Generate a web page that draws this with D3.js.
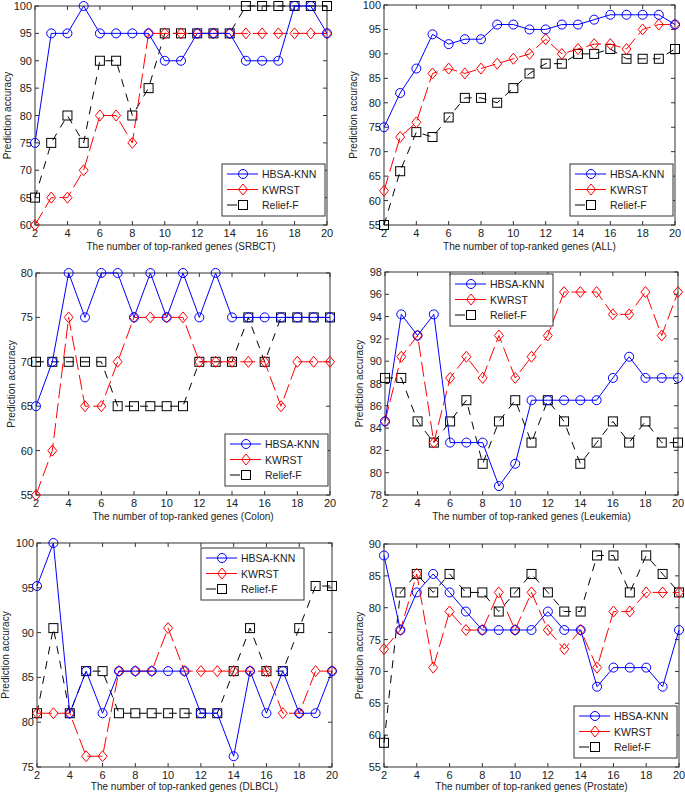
<!DOCTYPE html>
<html lang="en">

<head>
  <meta charset="utf-8" />
  <title>Prediction accuracy vs top-ranked genes</title>
  <script src="https://d3js.org/d3.v7.min.js"></script>
  <style>
    body {
      margin: 0;
      background: white;
    }

    svg text {
      font-family: "Liberation Sans", Arial, sans-serif;
      fill: #222;
    }

    .tick-label {
      font-size: 11px;
    }

    .axis-title {
      font-size: 10px;
    }

    .legend text {
      font-size: 10.5px;
    }
  </style>
</head>

<body>
  <svg width="685" height="794"></svg>

  <script>
    const genes = [2, 3, 4, 5, 6, 7, 8, 9, 10, 11, 12, 13, 14, 15, 16, 17, 18, 19, 20];
    const seriesNames = ["HBSA-KNN", "KWRST", "Relief-F"];
    const xTicks = [2, 4, 6, 8, 10, 12, 14, 16, 18, 20];

    // SRBCT
    const srbctHBSA = [75, 95, 95, 100, 95, 95, 95, 95, 90, 90, 95, 95, 95, 90, 90, 90, 100, 100, 95];
    const srbctKWRST = [60, 65, 65, 70, 80, 80, 75, 95, 95, 95, 95, 95, 95, 95, 95, 95, 95, 95, 95];
    const srbctRelief = [65, 75, 80, 75, 90, 90, 80, 85, 95, 95, 95, 95, 95, 100, 100, 100, 100, 100, 100];
    const srbctTicks = [60, 65, 70, 75, 80, 85, 90, 95, 100];

    // ALL
    const allHBSA = [75, 82, 87, 94, 92, 93, 93, 96, 96, 95, 95, 96, 96, 97, 98, 98, 98, 98, 96];
    const allKWRST = [62, 73, 76, 86, 87, 86, 87, 88, 89, 90, 93, 90, 91, 92, 92, 91, 95, 96, 96];
    const allRelief = [55, 66, 74, 73, 77, 81, 81, 80, 83, 86, 88, 88, 90, 90, 91, 89, 89, 89, 91];
    const allTicks = [55, 60, 65, 70, 75, 80, 85, 90, 95, 100];

    // Colon
    const colonHBSA = [65, 70, 80, 75, 80, 80, 75, 80, 75, 80, 75, 80, 75, 75, 75, 75, 75, 75, 75];
    const colonKWRST = [55, 60, 75, 65, 65, 70, 75, 75, 75, 75, 70, 70, 70, 70, 70, 65, 70, 70, 70];
    const colonRelief = [70, 70, 70, 70, 70, 65, 65, 65, 65, 65, 70, 70, 70, 75, 70, 75, 75, 75, 75];
    const colonTicks = [55, 60, 65, 70, 75, 80];

    // Leukemia
    const leukHBSA = [84.6, 94.2, 92.3, 94.2, 82.7, 82.7, 82.7, 78.8, 80.8, 86.5, 86.5, 86.5, 86.5, 86.5, 88.5, 90.4, 88.5, 88.5, 88.5];
    const leukKWRST = [84.6, 90.4, 92.3, 82.7, 88.5, 90.4, 88.5, 92.3, 88.5, 90.4, 92.3, 96.2, 96.2, 96.2, 94.2, 94.2, 96.2, 92.3, 96.2];
    const leukRelief = [88.5, 88.5, 84.6, 82.7, 84.6, 86.5, 80.8, 84.6, 86.5, 82.7, 86.5, 84.6, 80.8, 82.7, 84.6, 82.7, 84.6, 82.7, 82.7];
    const leukTicks = [78, 80, 82, 84, 86, 88, 90, 92, 94, 96, 98];

    // DLBCL
    const dlbclHBSA = [95.2, 100, 81.0, 85.7, 81.0, 85.7, 85.7, 85.7, 85.7, 85.7, 81.0, 81.0, 76.2, 85.7, 81.0, 85.7, 81.0, 81.0, 85.7];
    const dlbclKWRST = [81.0, 81.0, 81.0, 76.2, 76.2, 85.7, 85.7, 85.7, 90.5, 85.7, 85.7, 85.7, 85.7, 85.7, 85.7, 81.0, 81.0, 85.7, 85.7];
    const dlbclRelief = [81.0, 90.5, 81.0, 85.7, 85.7, 81.0, 81.0, 81.0, 81.0, 81.0, 81.0, 81.0, 85.7, 90.5, 85.7, 85.7, 90.5, 95.2, 95.2];
    const dlbclTicks = [75, 80, 85, 90, 95, 100];

    // Prostate
    const prostHBSA = [88.2, 76.5, 82.4, 85.3, 82.4, 79.4, 76.5, 76.5, 76.5, 76.5, 79.4, 76.5, 76.5, 67.6, 70.6, 70.6, 70.6, 67.6, 76.5];
    const prostKWRST = [73.5, 76.5, 85.3, 70.6, 79.4, 76.5, 76.5, 82.4, 76.5, 82.4, 76.5, 73.5, 76.5, 70.6, 79.4, 79.4, 82.4, 82.4, 82.4];
    const prostRelief = [58.8, 82.4, 85.3, 82.4, 85.3, 82.4, 82.4, 79.4, 82.4, 85.3, 82.4, 79.4, 79.4, 88.2, 88.2, 82.4, 88.2, 85.3, 82.4];
    const prostTicks = [55, 60, 65, 70, 75, 80, 85, 90];

    // panel layout: plot box in page pixels, legend corner, label positions
    const panels = [
      { name: "SRBCT", series: [srbctHBSA, srbctKWRST, srbctRelief], yTicks: srbctTicks,
        box: { l: 35, r: 327, t: 6, b: 225 }, legend: "se", yLabelX: 8, xLabelY: 250 },
      { name: "ALL", series: [allHBSA, allKWRST, allRelief], yTicks: allTicks,
        box: { l: 384, r: 675, t: 5, b: 225 }, legend: "se", yLabelX: 354, xLabelY: 250 },
      { name: "Colon", series: [colonHBSA, colonKWRST, colonRelief], yTicks: colonTicks,
        box: { l: 36, r: 330, t: 273, b: 495 }, legend: "se", yLabelX: 12, xLabelY: 520 },
      { name: "Leukemia", series: [leukHBSA, leukKWRST, leukRelief], yTicks: leukTicks,
        box: { l: 385, r: 678, t: 272, b: 495 }, legend: "nw", yLabelX: 360, xLabelY: 520 },
      { name: "DLBCL", series: [dlbclHBSA, dlbclKWRST, dlbclRelief], yTicks: dlbclTicks,
        box: { l: 37, r: 332, t: 543, b: 767 }, legend: "ne", yLabelX: 6, xLabelY: 790 },
      { name: "Prostate", series: [prostHBSA, prostKWRST, prostRelief], yTicks: prostTicks,
        box: { l: 384, r: 679, t: 544, b: 767 }, legend: "se", yLabelX: 360, xLabelY: 790 },
    ];

    const styles = [
      { color: "#0000ff", dash: null, legendDash: null, marker: "circle" },
      { color: "#ff0000", dash: "15,5", legendDash: null, marker: "diamond" },
      { color: "#000000", dash: "8,7", legendDash: "10,40", marker: "square" },
    ];

    const svg = d3.select("svg");

    function drawMarker(g, type, color, x, y) {
      if (type === "circle") {
        g.append("circle").attr("cx", x).attr("cy", y).attr("r", 4.5)
          .attr("fill", "none").attr("stroke", color).attr("stroke-width", 1);
      } else if (type === "diamond") {
        g.append("path")
          .attr("d", `M${x},${y - 5.5}L${x + 4.5},${y}L${x},${y + 5.5}L${x - 4.5},${y}Z`)
          .attr("fill", "none").attr("stroke", color).attr("stroke-width", 1);
      } else {
        g.append("rect").attr("x", x - 4.5).attr("y", y - 4.5).attr("width", 9).attr("height", 9)
          .attr("fill", "none").attr("stroke", color).attr("stroke-width", 1);
      }
    }

    panels.forEach(p => {
      const b = p.box;
      const x = d3.scaleLinear().domain([2, 20]).range([b.l, b.r]);
      const y = d3.scaleLinear().domain(d3.extent(p.yTicks)).range([b.b, b.t]);
      const g = svg.append("g");

      // frame
      g.append("rect").attr("x", b.l).attr("y", b.t)
        .attr("width", b.r - b.l).attr("height", b.b - b.t)
        .attr("fill", "none").attr("stroke", "#333").attr("stroke-width", 1);

      // inward ticks on all sides
      const tk = 4;
      xTicks.forEach(v => {
        g.append("line").attr("x1", x(v)).attr("x2", x(v)).attr("y1", b.b).attr("y2", b.b - tk).attr("stroke", "#333");
        g.append("line").attr("x1", x(v)).attr("x2", x(v)).attr("y1", b.t).attr("y2", b.t + tk).attr("stroke", "#333");
        g.append("text").attr("class", "tick-label").attr("x", x(v)).attr("y", b.b + 12)
          .attr("text-anchor", "middle").text(v);
      });
      p.yTicks.forEach(v => {
        g.append("line").attr("x1", b.l).attr("x2", b.l + tk).attr("y1", y(v)).attr("y2", y(v)).attr("stroke", "#333");
        g.append("line").attr("x1", b.r).attr("x2", b.r - tk).attr("y1", y(v)).attr("y2", y(v)).attr("stroke", "#333");
        g.append("text").attr("class", "tick-label").attr("x", b.l - 3).attr("y", y(v) + 4)
          .attr("text-anchor", "end").text(v);
      });

      g.append("text").attr("class", "axis-title")
        .attr("x", (b.l + b.r) / 2).attr("y", p.xLabelY)
        .attr("text-anchor", "middle")
        .text(`The number of top-ranked genes (${p.name})`);

      g.append("text").attr("class", "axis-title")
        .attr("transform", `translate(${p.yLabelX},${(b.t + b.b) / 2}) rotate(-90)`)
        .attr("text-anchor", "middle").attr("dominant-baseline", "middle")
        .text("Prediction accuracy");

      const line = d3.line().x((d, i) => x(genes[i])).y(d => y(d));

      // Relief-F first, then KWRST, then HBSA-KNN on top
      [2, 1, 0].forEach(si => {
        const s = styles[si];
        const vals = p.series[si];
        g.append("path").datum(vals).attr("d", line)
          .attr("fill", "none").attr("stroke", s.color).attr("stroke-width", 1)
          .attr("stroke-dasharray", s.dash);
        vals.forEach((v, i) => drawMarker(g, s.marker, s.color, x(genes[i]), y(v)));
      });

      // legend
      const lw = 103, lh = 52;
      let lx, ly;
      if (p.legend === "se") { lx = b.r - lw - 2; ly = b.b - lh - 9; }
      else if (p.legend === "ne") { lx = b.r - lw - 28; ly = b.t + 5; }
      else { lx = b.l + 65; ly = b.t + 2; }
      const lg = g.append("g").attr("class", "legend").attr("transform", `translate(${lx},${ly})`);
      lg.append("rect").attr("width", lw).attr("height", lh)
        .attr("fill", "white").attr("stroke", "#333").attr("stroke-width", 1);
      seriesNames.forEach((name, i) => {
        const s = styles[i];
        const yy = 10 + i * 15.5;
        lg.append("line").attr("x1", 5).attr("x2", 36).attr("y1", yy).attr("y2", yy)
          .attr("stroke", s.color).attr("stroke-width", 1)
          .attr("stroke-dasharray", s.legendDash);
        drawMarker(lg, s.marker, s.color, 21, yy);
        lg.append("text").attr("x", 40).attr("y", yy + 4).text(name);
      });
    });
  </script>
</body>

</html>
